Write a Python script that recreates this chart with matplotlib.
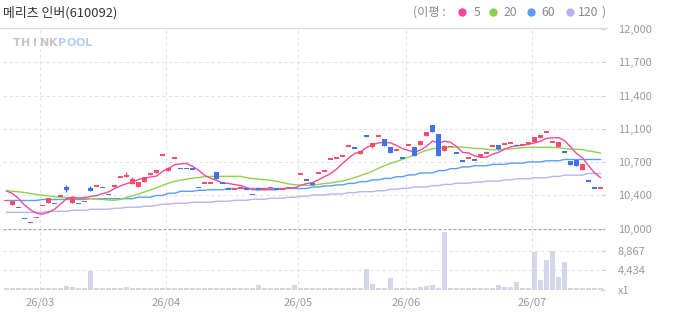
import matplotlib
matplotlib.use("Agg")
import matplotlib.pyplot as plt
import numpy as np

plt.rcParams['font.family'] = ['Noto Sans CJK KR', 'DejaVu Sans']

title = "메리츠 인버(610092)"
ma_names = ["5", "20", "60", "120"]
ma_colors = ["#f24a9e", "#8fd14f", "#5a9ef5", "#b6b5ef"]

# months on the x axis: label and index of first trading day
month_labels = ["26/03", "26/04", "26/05", "26/06", "26/07"]
month_start = [6, 27, 49, 67, 88]

price_ticks = [10000, 10333, 10667, 11000, 11333, 11667, 12000]
price_labels = ["10,000", "10,400", "10,700", "11,100", "11,400", "11,700", "12,000"]
vol_ticks = [0, 4434, 8867]
vol_labels = ["x1", "4,434", "8,867"]

# daily candles (100 trading days)
opens = [10281, 10236, 10213, 10102, 10062, 10112, 10233, 10259, 10249, 10326,
         10420, 10259, 10253, 10273, 10407, 10427, 10413, 10343, 10413, 10514,
         10517, 10450, 10420, 10470, 10537, 10554, 10735, 10580, 10705, 10604,
         10604, 10597, 10413, 10454, 10454, 10567, 10454, 10396, 10396, 10407,
         10396, 10343, 10396, 10396, 10413, 10396, 10396, 10413, 10413, 10544,
         10484, 10444, 10554, 10574, 10696, 10706, 10726, 10825, 10805, 10751,
         10936, 10820, 10927, 10898, 10818, 10785, 10705, 10836, 10818, 10841,
         10929, 11039, 10949, 10781, 10823, 10756, 10676, 10706, 10685, 10715,
         10756, 10826, 10838, 10846, 10856, 10838, 10838, 10856, 10870, 10911,
         10967, 10866, 10820, 10766, 10678, 10688, 10587, 10475, 10404, 10404]
closes = [10281, 10279, 10213, 10102, 10062, 10112, 10233, 10303, 10249, 10326,
          10386, 10313, 10253, 10273, 10379, 10427, 10413, 10343, 10437, 10514,
          10537, 10497, 10470, 10514, 10560, 10587, 10735, 10610, 10705, 10604,
          10604, 10597, 10413, 10454, 10454, 10500, 10454, 10396, 10396, 10407,
          10396, 10343, 10396, 10396, 10413, 10396, 10396, 10413, 10413, 10544,
          10484, 10444, 10554, 10574, 10696, 10706, 10726, 10825, 10805, 10778,
          10922, 10858, 10927, 10828, 10761, 10785, 10705, 10836, 10731, 10878,
          10969, 10971, 10731, 10828, 10823, 10756, 10676, 10706, 10685, 10746,
          10756, 10826, 10800, 10846, 10856, 10823, 10838, 10856, 10919, 10939,
          10967, 10866, 10866, 10766, 10637, 10627, 10647, 10475, 10404, 10404]
highs = [10281, 10279, 10213, 10102, 10062, 10112, 10233, 10303, 10249, 10326,
         10437, 10313, 10253, 10273, 10427, 10427, 10413, 10343, 10437, 10514,
         10570, 10517, 10470, 10514, 10560, 10587, 10735, 10620, 10705, 10604,
         10604, 10597, 10413, 10454, 10454, 10567, 10454, 10396, 10396, 10407,
         10396, 10343, 10396, 10396, 10413, 10396, 10396, 10413, 10413, 10544,
         10484, 10444, 10554, 10574, 10696, 10706, 10726, 10825, 10805, 10778,
         10936, 10858, 10927, 10898, 10818, 10785, 10705, 10848, 10818, 10878,
         10969, 11039, 10949, 10838, 10823, 10756, 10676, 10706, 10685, 10746,
         10756, 10826, 10838, 10846, 10856, 10848, 10838, 10856, 10919, 10939,
         10967, 10866, 10866, 10766, 10678, 10688, 10647, 10475, 10404, 10404]
lows = [10281, 10236, 10213, 10102, 10062, 10112, 10233, 10259, 10249, 10326,
        10369, 10259, 10253, 10273, 10379, 10427, 10413, 10343, 10413, 10514,
        10517, 10450, 10420, 10470, 10537, 10554, 10735, 10580, 10705, 10604,
        10604, 10597, 10413, 10454, 10454, 10500, 10454, 10396, 10396, 10407,
        10396, 10343, 10396, 10396, 10413, 10396, 10396, 10413, 10413, 10544,
        10484, 10444, 10554, 10574, 10696, 10706, 10726, 10825, 10805, 10751,
        10922, 10811, 10927, 10828, 10761, 10785, 10705, 10836, 10731, 10841,
        10929, 10971, 10731, 10781, 10823, 10756, 10676, 10706, 10685, 10715,
        10756, 10826, 10788, 10846, 10856, 10823, 10838, 10856, 10870, 10911,
        10967, 10866, 10820, 10766, 10637, 10627, 10587, 10475, 10404, 10404]
# 1 = red (up) candle, 0 = blue (down) candle
rising = [1, 1, 0, 0, 0, 1, 1, 1, 0, 1,
          0, 1, 0, 1, 0, 1, 0, 0, 1, 1,
          1, 1, 1, 1, 1, 1, 1, 1, 1, 0,
          0, 0, 0, 1, 1, 0, 0, 0, 1, 1,
          0, 0, 0, 1, 1, 0, 1, 1, 1, 1,
          0, 0, 1, 1, 1, 1, 1, 1, 0, 1,
          0, 1, 1, 0, 0, 1, 0, 1, 0, 1,
          1, 0, 0, 1, 1, 0, 0, 1, 0, 1,
          1, 1, 0, 1, 1, 0, 1, 1, 1, 1,
          1, 1, 1, 0, 0, 0, 1, 0, 0, 1]
volumes = [400, 400, 400, 400, 400, 400, 400, 400, 400, 400,
           800, 580, 400, 400, 4350, 400, 400, 400, 400, 400,
           670, 400, 400, 400, 400, 400, 400, 400, 400, 400,
           400, 400, 400, 400, 400, 400, 400, 400, 400, 400,
           400, 400, 1040, 400, 400, 400, 400, 400, 1040, 400,
           400, 400, 400, 400, 400, 400, 400, 400, 400, 400,
           4720, 1270, 400, 400, 2650, 400, 400, 400, 400, 580,
           800, 1040, 400, 13200, 400, 400, 400, 400, 400, 400,
           400, 400, 1040, 580, 670, 1730, 400, 400, 8620, 2190,
           6880, 8860, 2880, 6330, 400, 400, 400, 400, 400, 400]

# moving averages as drawn
ma5 = [10376, 10351, 10301, 10236, 10187, 10154, 10144, 10162, 10192, 10245,
       10299, 10315, 10305, 10310, 10321, 10329, 10349, 10367, 10400, 10427,
       10449, 10466, 10491, 10506, 10516, 10526, 10573, 10601, 10639, 10648,
       10652, 10624, 10585, 10534, 10504, 10484, 10455, 10452, 10440, 10431,
       10410, 10388, 10388, 10388, 10389, 10389, 10399, 10403, 10406, 10432,
       10450, 10460, 10488, 10520, 10550, 10595, 10651, 10705, 10752, 10768,
       10811, 10838, 10858, 10863, 10859, 10832, 10801, 10783, 10764, 10787,
       10824, 10877, 10856, 10875, 10864, 10822, 10763, 10758, 10729, 10714,
       10714, 10744, 10763, 10795, 10817, 10830, 10833, 10844, 10858, 10875,
       10904, 10909, 10911, 10881, 10820, 10752, 10709, 10630, 10558, 10511]
ma20 = [10378, 10374, 10368, 10361, 10351, 10341, 10333, 10326, 10319, 10314,
        10310, 10306, 10303, 10301, 10299, 10296, 10291, 10286, 10283, 10291,
        10311, 10329, 10346, 10366, 10386, 10410, 10432, 10455, 10472, 10483,
        10495, 10505, 10511, 10519, 10523, 10523, 10523, 10523, 10523, 10523,
        10510, 10500, 10495, 10490, 10484, 10472, 10461, 10447, 10439, 10435,
        10432, 10432, 10442, 10451, 10457, 10467, 10477, 10492, 10509, 10530,
        10552, 10574, 10604, 10629, 10652, 10672, 10693, 10715, 10738, 10760,
        10785, 10800, 10808, 10813, 10816, 10816, 10816, 10810, 10803, 10802,
        10795, 10788, 10791, 10796, 10798, 10803, 10810, 10813, 10815, 10815,
        10815, 10812, 10810, 10803, 10796, 10795, 10790, 10778, 10768, 10756]
ma60 = [10281, 10281, 10281, 10281, 10281, 10281, 10291, 10291, 10291, 10291,
        10291, 10291, 10291, 10291, 10299, 10299, 10299, 10299, 10299, 10299,
        10299, 10299, 10314, 10314, 10314, 10331, 10331, 10353, 10353, 10373,
        10373, 10373, 10383, 10383, 10389, 10389, 10389, 10401, 10401, 10401,
        10401, 10401, 10401, 10401, 10401, 10401, 10401, 10401, 10401, 10401,
        10401, 10416, 10416, 10427, 10427, 10437, 10437, 10452, 10452, 10470,
        10470, 10487, 10487, 10502, 10502, 10519, 10519, 10537, 10537, 10557,
        10557, 10557, 10580, 10580, 10600, 10600, 10617, 10617, 10629, 10629,
        10629, 10643, 10643, 10643, 10655, 10655, 10655, 10667, 10667, 10667,
        10679, 10679, 10679, 10692, 10692, 10692, 10692, 10692, 10692, 10692]
ma120 = [10162, 10162, 10162, 10162, 10162, 10162, 10162, 10172, 10172, 10172,
         10172, 10183, 10183, 10183, 10193, 10193, 10193, 10193, 10203, 10203,
         10213, 10213, 10213, 10223, 10223, 10233, 10243, 10243, 10253, 10253,
         10253, 10263, 10263, 10263, 10263, 10273, 10273, 10273, 10283, 10283,
         10283, 10293, 10293, 10293, 10303, 10303, 10303, 10313, 10313, 10324,
         10324, 10336, 10336, 10336, 10346, 10346, 10346, 10359, 10359, 10369,
         10369, 10369, 10379, 10379, 10393, 10393, 10403, 10403, 10416, 10416,
         10416, 10430, 10430, 10442, 10442, 10454, 10454, 10454, 10465, 10465,
         10475, 10475, 10475, 10487, 10487, 10499, 10499, 10499, 10509, 10509,
         10509, 10522, 10522, 10535, 10535, 10535, 10535, 10552, 10552, 10552]

W, H = 673, 315
fig = plt.figure(figsize=(W / 100, H / 100), dpi=100)

# panel geometry in pixels
left_px, right_px = 3, 604.5
price_top, price_bot = 29, 228.5
vol_top, vol_bot = 229, 289.5

def px_axes(top, bot):
    return [left_px / W, 1 - bot / H, (right_px - left_px) / W, (bot - top) / H]

ax = fig.add_axes(px_axes(price_top, price_bot))
axv = fig.add_axes(px_axes(vol_top, vol_bot), sharex=ax)

x = np.arange(len(closes))
xlim = (-0.583, 99.67)
grid_kw = dict(color="#e4e4e4", linewidth=0.8, linestyle=(0, (3, 2.5)), zorder=0)
red, blue = "#fb4d69", "#3f73e6"

# --- price panel
for yt in price_ticks[1:-1]:
    ax.axhline(yt, **grid_kw)
for m in month_start:
    ax.axvline(m - 0.4, **grid_kw)
    axv.axvline(m - 0.4, **grid_kw)

colors = [red if r else blue for r in rising]
bottoms = [min(o, c) for o, c in zip(opens, closes)]
heights = [abs(c - o) for o, c in zip(opens, closes)]
min_h = 15  # flat candles still show as a short dash
bottoms = [b if h >= min_h else (b + h / 2 - min_h / 2) for b, h in zip(bottoms, heights)]
heights = [max(h, min_h) for h in heights]
ax.vlines(x, lows, highs, colors=colors, linewidth=1, zorder=3)
ax.bar(x, heights, bottom=bottoms, width=0.83, color=colors, linewidth=0, zorder=3)

for vals, col in zip([ma120, ma60, ma20, ma5], ma_colors[::-1]):
    ax.plot(x, vals, color=col, linewidth=1.0, zorder=2)

ax.set_xlim(*xlim)
ax.set_ylim(10000, 12000)
ax.set_yticks(price_ticks)
ax.set_yticklabels(price_labels)

# --- volume panel
axv.axhline(4434, **grid_kw)
axv.axhline(8867, **grid_kw)
axv.axhline(13900, color="#a5a5a5", linewidth=0.9, linestyle=(0, (2.5, 1.5)), zorder=4)
axv.bar(x, volumes, width=0.83, color="#d2d7ea", linewidth=0, zorder=3)
axv.set_ylim(0, 13900)
axv.set_yticks(vol_ticks)
axv.set_yticklabels(vol_labels)
axv.set_xticks([m - 0.4 for m in month_start])
axv.set_xticklabels(month_labels)

for a in (ax, axv):
    for s in a.spines.values():
        s.set_visible(False)
    a.yaxis.tick_right()
    a.tick_params(axis="y", direction="in", length=3, color="#d0d0d0",
                  labelcolor="#9a9a9a", labelsize=8, pad=9.5)
    a.set_facecolor("none")
ax.tick_params(axis="x", bottom=False, labelbottom=False)
axv.tick_params(axis="x", length=0, labelcolor="#9a9a9a", labelsize=8, pad=6)

# --- header overlay in pixel coordinates
ov = fig.add_axes([0, 0, 1, 1], zorder=-1)
ov.set_xlim(0, W)
ov.set_ylim(H, 0)
ov.axis("off")
ov.plot([0, 607], [28, 28], color="#dcdcdc", linewidth=0.9)
ov.text(3, 12.5, title, fontsize=9.3, color="#333333", va="center", ha="left")

ov.text(413, 12, "(이평 :", fontsize=8.8, color="#8a8a8a", va="center", ha="left")
dot_x = [461.7, 493.3, 530.7, 570]
lab_x = [474, 504, 541, 577.5]
for dx, lx, name, col in zip(dot_x, lab_x, ma_names, ma_colors):
    ov.plot(dx, 12, "o", color=col, markersize=6, markeredgewidth=0)
    ov.text(lx, 12, name, fontsize=8.8, color="#8a8a8a", va="center", ha="left")
ov.text(601, 12, ")", fontsize=8.8, color="#8a8a8a", va="center", ha="left")

# THINKPOOL watermark
for i, ch in enumerate("THINK"):
    ov.text(16.3 + 9.3 * i, 43, ch, fontsize=8, fontweight="heavy", color="#c6c6c6",
            family="DejaVu Sans", ha="center", va="center")
for i, ch in enumerate("POOL"):
    ov.text(62.3 + 8.7 * i, 43, ch, fontsize=8, fontweight="heavy", color="#b9cdee",
            family="DejaVu Sans", ha="center", va="center")

fig.savefig("out.png", dpi=100)
